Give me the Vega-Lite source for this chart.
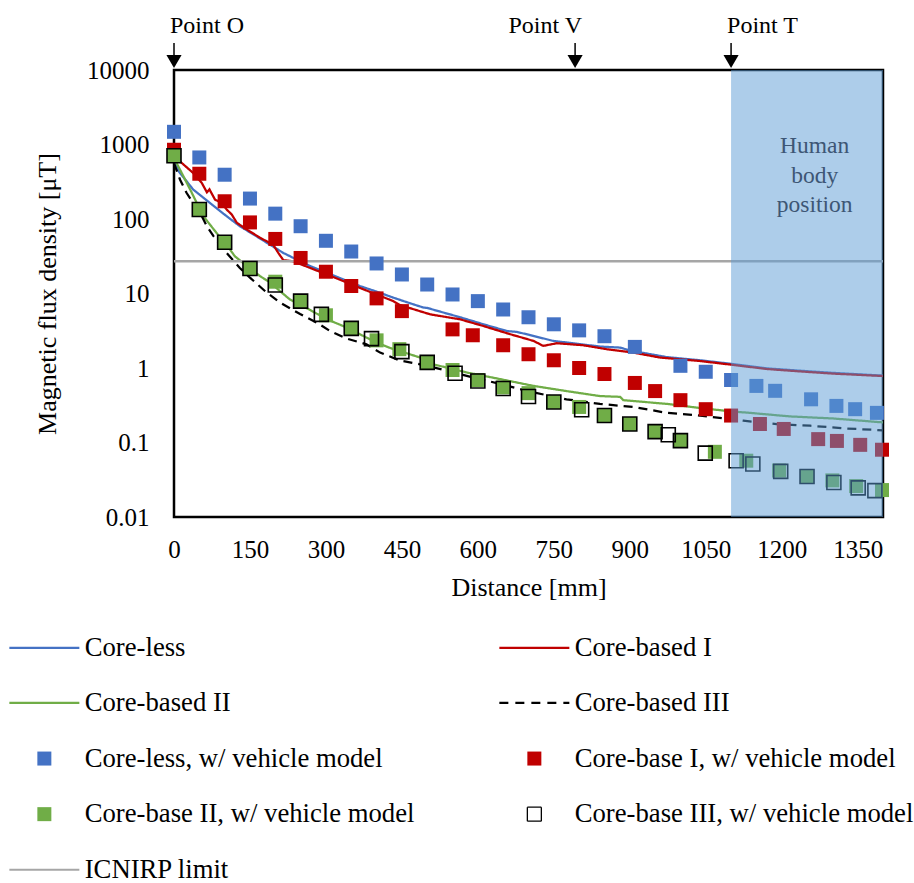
{
 "$schema": "https://vega.github.io/schema/vega-lite/v6.json",
 "width": 709, "height": 447,
 "autosize": {"type": "none"},
 "padding": {"left": 174, "top": 70, "right": 31, "bottom": 366},
 "background": "white",
 "config": {
   "font": "Liberation Serif",
   "view": {"stroke": "black", "strokeWidth": 2.5},
   "axis": {"grid": false, "ticks": false, "domain": false, "labelFont": "Liberation Serif", "labelFontSize": 25, "labelColor": "black", "titleFont": "Liberation Serif", "titleFontSize": 26, "titleFontWeight": "normal", "titleColor": "black"}
 },
 "datasets": {
   "lines": [
     {"s":"Core-less","d":0,"b":620},{"s":"Core-less","d":10,"b":430},{"s":"Core-less","d":38,"b":248},{"s":"Core-less","d":71,"b":164},{"s":"Core-less","d":104,"b":109},{"s":"Core-less","d":130,"b":80},{"s":"Core-less","d":157,"b":62},{"s":"Core-less","d":190,"b":45},{"s":"Core-less","d":216,"b":35},{"s":"Core-less","d":242,"b":28.6},{"s":"Core-less","d":269,"b":23.3},{"s":"Core-less","d":302,"b":19},{"s":"Core-less","d":334,"b":15.5},{"s":"Core-less","d":367,"b":12.6},{"s":"Core-less","d":400,"b":10.6},{"s":"Core-less","d":433,"b":8.8},{"s":"Core-less","d":466,"b":7.4},{"s":"Core-less","d":492,"b":6.5},{"s":"Core-less","d":500,"b":6.4},{"s":"Core-less","d":530,"b":5.6},{"s":"Core-less","d":565,"b":4.8},{"s":"Core-less","d":611,"b":3.86},{"s":"Core-less","d":657,"b":3.14},{"s":"Core-less","d":677,"b":3.05},{"s":"Core-less","d":700,"b":2.8},{"s":"Core-less","d":749,"b":2.31},{"s":"Core-less","d":800,"b":2.1},{"s":"Core-less","d":841,"b":1.94},{"s":"Core-less","d":881,"b":1.88},{"s":"Core-less","d":900,"b":1.72},{"s":"Core-less","d":973,"b":1.4},{"s":"Core-less","d":1039,"b":1.27},{"s":"Core-less","d":1104,"b":1.13},{"s":"Core-less","d":1170,"b":0.99},{"s":"Core-less","d":1236,"b":0.92},{"s":"Core-less","d":1302,"b":0.86},{"s":"Core-less","d":1400,"b":0.79},
     {"s":"Core-based I","d":0,"b":780},{"s":"Core-based I","d":8,"b":624},{"s":"Core-based I","d":38,"b":414},{"s":"Core-based I","d":55,"b":304},{"s":"Core-based I","d":65,"b":228},{"s":"Core-based I","d":70,"b":250},{"s":"Core-based I","d":81,"b":182},{"s":"Core-based I","d":94,"b":164},{"s":"Core-based I","d":104,"b":134},{"s":"Core-based I","d":114,"b":115},{"s":"Core-based I","d":124,"b":89},{"s":"Core-based I","d":144,"b":72},{"s":"Core-based I","d":170,"b":56},{"s":"Core-based I","d":196,"b":45},{"s":"Core-based I","d":206,"b":35},{"s":"Core-based I","d":216,"b":28},{"s":"Core-based I","d":236,"b":27},{"s":"Core-based I","d":269,"b":22},{"s":"Core-based I","d":302,"b":18},{"s":"Core-based I","d":334,"b":14.7},{"s":"Core-based I","d":367,"b":11.9},{"s":"Core-based I","d":400,"b":9.7},{"s":"Core-based I","d":433,"b":7.9},{"s":"Core-based I","d":446,"b":7.0},{"s":"Core-based I","d":506,"b":5.25},{"s":"Core-based I","d":565,"b":4.5},{"s":"Core-based I","d":611,"b":3.66},{"s":"Core-based I","d":664,"b":2.84},{"s":"Core-based I","d":710,"b":2.31},{"s":"Core-based I","d":729,"b":1.98},{"s":"Core-based I","d":756,"b":2.15},{"s":"Core-based I","d":808,"b":2.02},{"s":"Core-based I","d":854,"b":1.79},{"s":"Core-based I","d":907,"b":1.61},{"s":"Core-based I","d":960,"b":1.38},{"s":"Core-based I","d":1039,"b":1.24},{"s":"Core-based I","d":1104,"b":1.1},{"s":"Core-based I","d":1170,"b":0.97},{"s":"Core-based I","d":1236,"b":0.9},{"s":"Core-based I","d":1302,"b":0.84},{"s":"Core-based I","d":1400,"b":0.78},
     {"s":"Core-based II","d":0,"b":658},{"s":"Core-based II","d":12,"b":458},{"s":"Core-based II","d":32,"b":248},{"s":"Core-based II","d":45,"b":164},{"s":"Core-based II","d":58,"b":109},{"s":"Core-based II","d":84,"b":65},{"s":"Core-based II","d":104,"b":45},{"s":"Core-based II","d":120,"b":31.7},{"s":"Core-based II","d":144,"b":23.3},{"s":"Core-based II","d":170,"b":17.1},{"s":"Core-based II","d":190,"b":14},{"s":"Core-based II","d":209,"b":10.8},{"s":"Core-based II","d":229,"b":8.3},{"s":"Core-based II","d":269,"b":6.0},{"s":"Core-based II","d":302,"b":4.5},{"s":"Core-based II","d":334,"b":3.66},{"s":"Core-based II","d":367,"b":2.84},{"s":"Core-based II","d":400,"b":2.19},{"s":"Core-based II","d":433,"b":1.79},{"s":"Core-based II","d":446,"b":1.69},{"s":"Core-based II","d":486,"b":1.38},{"s":"Core-based II","d":512,"b":1.12},{"s":"Core-based II","d":578,"b":0.87},{"s":"Core-based II","d":644,"b":0.71},{"s":"Core-based II","d":710,"b":0.575},{"s":"Core-based II","d":775,"b":0.49},{"s":"Core-based II","d":841,"b":0.42},{"s":"Core-based II","d":881,"b":0.41},{"s":"Core-based II","d":887,"b":0.37},{"s":"Core-based II","d":973,"b":0.33},{"s":"Core-based II","d":1039,"b":0.29},{"s":"Core-based II","d":1104,"b":0.26},{"s":"Core-based II","d":1137,"b":0.25},{"s":"Core-based II","d":1216,"b":0.224},{"s":"Core-based II","d":1302,"b":0.21},{"s":"Core-based II","d":1400,"b":0.186},
     {"s":"Core-based III","d":0,"b":560},{"s":"Core-based III","d":12,"b":337},{"s":"Core-based III","d":25,"b":223},{"s":"Core-based III","d":38,"b":164},{"s":"Core-based III","d":55,"b":109},{"s":"Core-based III","d":65,"b":80},{"s":"Core-based III","d":78,"b":59},{"s":"Core-based III","d":104,"b":35},{"s":"Core-based III","d":130,"b":22},{"s":"Core-based III","d":150,"b":16.3},{"s":"Core-based III","d":183,"b":10.3},{"s":"Core-based III","d":209,"b":7.6},{"s":"Core-based III","d":249,"b":5.3},{"s":"Core-based III","d":282,"b":4.06},{"s":"Core-based III","d":308,"b":3.14},{"s":"Core-based III","d":341,"b":2.48},{"s":"Core-based III","d":380,"b":2.08},{"s":"Core-based III","d":407,"b":1.61},{"s":"Core-based III","d":446,"b":1.26},{"s":"Core-based III","d":486,"b":1.12},{"s":"Core-based III","d":512,"b":1.02},{"s":"Core-based III","d":578,"b":0.785},{"s":"Core-based III","d":644,"b":0.61},{"s":"Core-based III","d":710,"b":0.47},{"s":"Core-based III","d":775,"b":0.38},{"s":"Core-based III","d":841,"b":0.33},{"s":"Core-based III","d":907,"b":0.30},{"s":"Core-based III","d":973,"b":0.25},{"s":"Core-based III","d":1039,"b":0.23},{"s":"Core-based III","d":1124,"b":0.196},{"s":"Core-based III","d":1190,"b":0.177},{"s":"Core-based III","d":1256,"b":0.168},{"s":"Core-based III","d":1322,"b":0.155},{"s":"Core-based III","d":1388,"b":0.147},{"s":"Core-based III","d":1400,"b":0.145}
   ],
   "squares": [
     {"s":"Core-less, w/ vehicle model","d":0,"b":1480},{"s":"Core-less, w/ vehicle model","d":50,"b":670},{"s":"Core-less, w/ vehicle model","d":100,"b":393},{"s":"Core-less, w/ vehicle model","d":150,"b":188},{"s":"Core-less, w/ vehicle model","d":200,"b":118},{"s":"Core-less, w/ vehicle model","d":250,"b":80},{"s":"Core-less, w/ vehicle model","d":300,"b":51},{"s":"Core-less, w/ vehicle model","d":350,"b":36.6},{"s":"Core-less, w/ vehicle model","d":400,"b":25.3},{"s":"Core-less, w/ vehicle model","d":450,"b":18},{"s":"Core-less, w/ vehicle model","d":500,"b":13.2},{"s":"Core-less, w/ vehicle model","d":550,"b":9.7},{"s":"Core-less, w/ vehicle model","d":600,"b":7.9},{"s":"Core-less, w/ vehicle model","d":650,"b":6.1},{"s":"Core-less, w/ vehicle model","d":700,"b":4.8},{"s":"Core-less, w/ vehicle model","d":750,"b":3.86},{"s":"Core-less, w/ vehicle model","d":800,"b":3.2},{"s":"Core-less, w/ vehicle model","d":850,"b":2.67},{"s":"Core-less, w/ vehicle model","d":910,"b":1.92},{"s":"Core-less, w/ vehicle model","d":1000,"b":1.07},{"s":"Core-less, w/ vehicle model","d":1050,"b":0.89},{"s":"Core-less, w/ vehicle model","d":1100,"b":0.69},{"s":"Core-less, w/ vehicle model","d":1150,"b":0.575},{"s":"Core-less, w/ vehicle model","d":1187,"b":0.494},{"s":"Core-less, w/ vehicle model","d":1258,"b":0.38},{"s":"Core-less, w/ vehicle model","d":1308,"b":0.31},{"s":"Core-less, w/ vehicle model","d":1345,"b":0.28},{"s":"Core-less, w/ vehicle model","d":1388,"b":0.25},
     {"s":"Core-base I, w/ vehicle model","d":0,"b":850},{"s":"Core-base I, w/ vehicle model","d":50,"b":405},{"s":"Core-base I, w/ vehicle model","d":100,"b":173},{"s":"Core-base I, w/ vehicle model","d":150,"b":90},{"s":"Core-base I, w/ vehicle model","d":200,"b":54},{"s":"Core-base I, w/ vehicle model","d":250,"b":30},{"s":"Core-base I, w/ vehicle model","d":300,"b":19.6},{"s":"Core-base I, w/ vehicle model","d":350,"b":12.6},{"s":"Core-base I, w/ vehicle model","d":400,"b":8.6},{"s":"Core-base I, w/ vehicle model","d":450,"b":5.8},{"s":"Core-base I, w/ vehicle model","d":550,"b":3.3},{"s":"Core-base I, w/ vehicle model","d":590,"b":2.75},{"s":"Core-base I, w/ vehicle model","d":650,"b":2.02},{"s":"Core-base I, w/ vehicle model","d":700,"b":1.53},{"s":"Core-base I, w/ vehicle model","d":750,"b":1.27},{"s":"Core-base I, w/ vehicle model","d":800,"b":1.0},{"s":"Core-base I, w/ vehicle model","d":850,"b":0.83},{"s":"Core-base I, w/ vehicle model","d":910,"b":0.63},{"s":"Core-base I, w/ vehicle model","d":950,"b":0.49},{"s":"Core-base I, w/ vehicle model","d":1000,"b":0.37},{"s":"Core-base I, w/ vehicle model","d":1050,"b":0.28},{"s":"Core-base I, w/ vehicle model","d":1100,"b":0.23},{"s":"Core-base I, w/ vehicle model","d":1157,"b":0.177},{"s":"Core-base I, w/ vehicle model","d":1204,"b":0.152},{"s":"Core-base I, w/ vehicle model","d":1272,"b":0.111},{"s":"Core-base I, w/ vehicle model","d":1309,"b":0.105},{"s":"Core-base I, w/ vehicle model","d":1355,"b":0.093},{"s":"Core-base I, w/ vehicle model","d":1398,"b":0.08},
     {"s":"Core-base II, w/ vehicle model","d":0,"b":706},{"s":"Core-base II, w/ vehicle model","d":50,"b":134},{"s":"Core-base II, w/ vehicle model","d":100,"b":48.7},{"s":"Core-base II, w/ vehicle model","d":150,"b":21.7},{"s":"Core-base II, w/ vehicle model","d":200,"b":14.4},{"s":"Core-base II, w/ vehicle model","d":250,"b":7.9},{"s":"Core-base II, w/ vehicle model","d":300,"b":5.1},{"s":"Core-base II, w/ vehicle model","d":350,"b":3.4},{"s":"Core-base II, w/ vehicle model","d":400,"b":2.35},{"s":"Core-base II, w/ vehicle model","d":445,"b":1.79},{"s":"Core-base II, w/ vehicle model","d":500,"b":1.19},{"s":"Core-base II, w/ vehicle model","d":550,"b":0.94},{"s":"Core-base II, w/ vehicle model","d":600,"b":0.69},{"s":"Core-base II, w/ vehicle model","d":650,"b":0.55},{"s":"Core-base II, w/ vehicle model","d":700,"b":0.46},{"s":"Core-base II, w/ vehicle model","d":750,"b":0.35},{"s":"Core-base II, w/ vehicle model","d":800,"b":0.30},{"s":"Core-base II, w/ vehicle model","d":850,"b":0.23},{"s":"Core-base II, w/ vehicle model","d":900,"b":0.177},{"s":"Core-base II, w/ vehicle model","d":950,"b":0.14},{"s":"Core-base II, w/ vehicle model","d":1000,"b":0.106},{"s":"Core-base II, w/ vehicle model","d":1068,"b":0.075},{"s":"Core-base II, w/ vehicle model","d":1130,"b":0.057},{"s":"Core-base II, w/ vehicle model","d":1195,"b":0.042},{"s":"Core-base II, w/ vehicle model","d":1250,"b":0.035},{"s":"Core-base II, w/ vehicle model","d":1300,"b":0.031},{"s":"Core-base II, w/ vehicle model","d":1347,"b":0.026},{"s":"Core-base II, w/ vehicle model","d":1398,"b":0.023},
     {"s":"Core-base III, w/ vehicle model","d":0,"b":706},{"s":"Core-base III, w/ vehicle model","d":50,"b":134},{"s":"Core-base III, w/ vehicle model","d":100,"b":48.7},{"s":"Core-base III, w/ vehicle model","d":150,"b":21.7},{"s":"Core-base III, w/ vehicle model","d":200,"b":13.0},{"s":"Core-base III, w/ vehicle model","d":250,"b":7.9},{"s":"Core-base III, w/ vehicle model","d":291,"b":5.25},{"s":"Core-base III, w/ vehicle model","d":350,"b":3.4},{"s":"Core-base III, w/ vehicle model","d":390,"b":2.48},{"s":"Core-base III, w/ vehicle model","d":450,"b":1.66},{"s":"Core-base III, w/ vehicle model","d":500,"b":1.19},{"s":"Core-base III, w/ vehicle model","d":555,"b":0.85},{"s":"Core-base III, w/ vehicle model","d":600,"b":0.67},{"s":"Core-base III, w/ vehicle model","d":650,"b":0.53},{"s":"Core-base III, w/ vehicle model","d":700,"b":0.415},{"s":"Core-base III, w/ vehicle model","d":750,"b":0.35},{"s":"Core-base III, w/ vehicle model","d":805,"b":0.275},{"s":"Core-base III, w/ vehicle model","d":850,"b":0.23},{"s":"Core-base III, w/ vehicle model","d":900,"b":0.177},{"s":"Core-base III, w/ vehicle model","d":950,"b":0.14},{"s":"Core-base III, w/ vehicle model","d":976,"b":0.127},{"s":"Core-base III, w/ vehicle model","d":1000,"b":0.106},{"s":"Core-base III, w/ vehicle model","d":1049,"b":0.072},{"s":"Core-base III, w/ vehicle model","d":1110,"b":0.057},{"s":"Core-base III, w/ vehicle model","d":1143,"b":0.0515},{"s":"Core-base III, w/ vehicle model","d":1198,"b":0.041},{"s":"Core-base III, w/ vehicle model","d":1250,"b":0.035},{"s":"Core-base III, w/ vehicle model","d":1303,"b":0.029},{"s":"Core-base III, w/ vehicle model","d":1351,"b":0.0246},{"s":"Core-base III, w/ vehicle model","d":1384,"b":0.0226}
   ],
   "limit": [{"s":"ICNIRP limit","b":27}],
   "marks": [{"p":"Point O","d":0},{"p":"Point V","d":792},{"p":"Point T","d":1100}],
   "body": [{"t":"Human\nbody\nposition","d1":1100,"d2":1400,"d":1265}]
 },
 "layer": [
   {
     "data": {"name": "lines"},
     "mark": {"type": "line", "strokeWidth": 2.25, "interpolate": "linear"},
     "encoding": {
       "x": {"field": "d", "type": "quantitative", "title": "Distance [mm]",
             "scale": {"domain": [0, 1400], "nice": false, "zero": false},
             "axis": {"values": [0,150,300,450,600,750,900,1050,1200,1350], "format": "d", "labelPadding": 20, "titlePadding": 12, "labelFlush": false}},
       "y": {"field": "b", "type": "quantitative", "title": "Magnetic flux density [μT]",
             "scale": {"type": "log", "domain": [0.01, 10000], "nice": false},
             "axis": {"values": [0.01,0.1,1,10,100,1000,10000], "format": "~g", "labelPadding": 25, "titlePadding": 26, "labelFlush": false}},
       "color": {"field": "s", "type": "nominal",
         "scale": {"domain": ["Core-less","Core-based II","Core-less, w/ vehicle model","Core-base II, w/ vehicle model","ICNIRP limit","Core-based I","Core-based III","Core-base I, w/ vehicle model","Core-base III, w/ vehicle model"],
                   "range": ["#4472C4","#70AD47","#4472C4","#70AD47","#A6A6A6","#C00000","#000000","#C00000","#000000"]},
         "legend": {"orient": "none", "legendX": -143, "legendY": 564, "columns": 2, "columnPadding": 79, "rowPadding": 27.6,
                    "title": null, "padding": 0, "labelFont": "Liberation Serif", "labelFontSize": 26.7, "labelColor": "black",
                    "labelLimit": 600, "labelOffset": 27, "symbolSize": 196, "symbolOpacity": 1,
                    "encode": {"symbols": {"update": {
                       "shape": {"signal": "indexof([2,3,7,8], datum.index) >= 0 ? 'square' : 'M-5,0H5'"},
                       "fill": {"signal": "datum.index == 2 ? '#4472C4' : datum.index == 3 ? '#70AD47' : datum.index == 7 ? '#C00000' : 'transparent'"},
                       "fillOpacity": {"signal": "datum.index == 8 ? 0 : 1"},
                       "stroke": {"signal": "datum.index == 0 ? '#4472C4' : datum.index == 1 ? '#70AD47' : datum.index == 4 ? '#A6A6A6' : datum.index == 5 ? '#C00000' : (datum.index == 6 || datum.index == 8) ? '#000000' : 'transparent'"},
                       "strokeWidth": {"signal": "datum.index == 8 ? 1.3 : (datum.index == 2 || datum.index == 3 || datum.index == 7) ? 0 : 2.2"},
                       "strokeDash": {"signal": "datum.index == 6 ? [9,7] : [1,0]"},
                       "opacity": {"value": 1}
                    }}}}
       },
       "strokeDash": {"condition": {"test": "datum.s === 'Core-based III'", "value": [9, 6]}, "value": [1, 0]},
       "strokeWidth": {"condition": {"test": "datum.s === 'Core-based III'", "value": 2.75}, "value": 2.25}
     }
   },
   {
     "data": {"name": "limit"},
     "mark": {"type": "rule", "strokeWidth": 2.5},
     "encoding": {
       "y": {"field": "b", "type": "quantitative"},
       "color": {"field": "s", "type": "nominal"}
     }
   },
   {
     "data": {"name": "squares"},
     "transform": [{"filter": "datum.s !== 'Core-base III, w/ vehicle model'"}],
     "mark": {"type": "square", "filled": true, "size": 196, "opacity": 1},
     "encoding": {
       "x": {"field": "d", "type": "quantitative"},
       "y": {"field": "b", "type": "quantitative"},
       "color": {"field": "s", "type": "nominal"}
     }
   },
   {
     "data": {"name": "squares"},
     "transform": [{"filter": "datum.s === 'Core-base III, w/ vehicle model'"}],
     "mark": {"type": "square", "filled": false, "size": 196, "opacity": 1, "strokeWidth": 1.6},
     "encoding": {
       "x": {"field": "d", "type": "quantitative"},
       "y": {"field": "b", "type": "quantitative"},
       "color": {"field": "s", "type": "nominal"}
     }
   },
   {
     "data": {"name": "body"},
     "mark": {"type": "rect", "color": "#5B9BD5", "opacity": 0.5},
     "encoding": {
       "x": {"field": "d1", "type": "quantitative"},
       "x2": {"field": "d2"},
       "y": {"datum": 0.01, "type": "quantitative"},
       "y2": {"datum": 10000}
     }
   },
   {
     "data": {"name": "body"},
     "mark": {"type": "text", "lineBreak": "\n", "lineHeight": 29.5, "fontSize": 23.5, "font": "Liberation Serif", "color": "#3D5675", "align": "center", "baseline": "middle"},
     "encoding": {
       "x": {"field": "d", "type": "quantitative"},
       "y": {"datum": 945, "type": "quantitative"},
       "text": {"field": "t"}
     }
   },
   {
     "data": {"name": "marks"},
     "mark": {"type": "rule", "color": "black", "strokeWidth": 1.5},
     "encoding": {
       "x": {"field": "d", "type": "quantitative"},
       "y": {"datum": 23000, "type": "quantitative"},
       "y2": {"datum": 14500}
     }
   },
   {
     "data": {"name": "marks"},
     "mark": {"type": "point", "shape": "triangle-down", "filled": true, "color": "black", "size": 230, "opacity": 1},
     "encoding": {
       "x": {"field": "d", "type": "quantitative"},
       "y": {"datum": 13000, "type": "quantitative"}
     }
   },
   {
     "data": {"name": "marks"},
     "transform": [{"filter": "datum.p !== 'Point V'"}],
     "mark": {"type": "text", "align": "left", "baseline": "alphabetic", "dx": -4, "fontSize": 24, "font": "Liberation Serif", "color": "black"},
     "encoding": {
       "x": {"field": "d", "type": "quantitative"},
       "y": {"datum": 31300, "type": "quantitative"},
       "text": {"field": "p"}
     }
   },
   {
     "data": {"name": "marks"},
     "transform": [{"filter": "datum.p === 'Point V'"}],
     "mark": {"type": "text", "align": "right", "baseline": "alphabetic", "dx": 7, "fontSize": 24, "font": "Liberation Serif", "color": "black"},
     "encoding": {
       "x": {"field": "d", "type": "quantitative"},
       "y": {"datum": 31300, "type": "quantitative"},
       "text": {"field": "p"}
     }
   }
 ]
}
